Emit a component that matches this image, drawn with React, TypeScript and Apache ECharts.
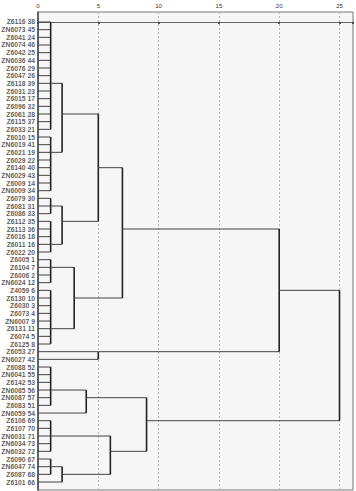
import React, { useEffect, useRef } from "react";
import * as echarts from "echarts";

// Leaf labels, top to bottom
const leafNames = [
  "Z6116 38", "ZN6073 45", "Z6041 24", "ZN6074 46", "Z6042 25", "ZN6036 44", "Z6076 29", "Z6047 26",
  "Z6118 39", "Z6031 23", "Z6015 17", "Z6096 32", "Z6061 28", "Z6115 37", "Z6033 21", "Z6010 15",
  "ZN6019 41", "Z6021 19", "Z6029 22", "Z6140 40", "ZN6029 43", "Z6009 14", "ZN6009 34", "Z6079 30",
  "Z6081 31", "Z6086 33", "Z6112 35", "Z6113 36", "Z6016 18", "Z6011 16", "Z6022 20", "Z6005 1",
  "Z6104 7", "Z6006 2", "ZN6024 12", "Z4059 6", "Z6130 10", "Z6030 3", "Z6073 4", "ZN6007 9",
  "Z6131 11", "Z6074 5", "Z6125 8", "Z6053 27", "ZN6027 42", "Z6088 52", "ZN6041 55", "Z6142 53",
  "ZN6085 56", "ZN6087 57", "Z6083 51", "ZN6059 54", "Z6106 69", "Z6107 70", "ZN6031 71", "ZN6034 73",
  "ZN6032 72", "Z6090 67", "ZN6047 74", "Z6087 68", "Z6101 66",
];

// Rescaled distance tick labels
const axisTicks = [0, 5, 10, 15, 20, 25];

// Merge nodes: id, children (numbers = leaf index, strings = node id), merge distance, leaf row of link
const range = (a: number, b: number) => { const r: number[] = []; for (let i = a; i <= b; i++) r.push(i); return r; };
const nodeIds = ["n1", "n2", "n3", "n4a", "n4b", "n5", "n6", "n8a", "n8b", "n9", "n10", "n11", "n12", "n13a", "n14", "n15a", "n15b1", "n15b", "n15", "n16", "root"];
const nodeKids: (number | string)[][] = [
  range(0, 14), range(15, 22), ["n1", "n2"], range(23, 25), range(26, 30), ["n4a", "n4b"], ["n3", "n5"],
  range(31, 34), range(35, 42), ["n8a", "n8b"], ["n6", "n9"], [43, 44], ["n10", "n11"],
  range(45, 50), ["n13a", 51], range(52, 56), range(57, 59), ["n15b1", 60], ["n15a", "n15b"], ["n14", "n15"], ["n12", "n16"],
];
const nodeHeights = [1.05, 1.05, 2, 1.05, 1.05, 2, 5, 1.05, 1.05, 3, 7, 5, 20, 1.05, 4, 1.05, 1.05, 2, 6, 9, 25];
const nodeRows = [8, 17, 12, 24, 29, 26, 19, 32, 40, 36, 27, 43, 35, 48, 49, 54, 58, 59, 56, 52, 43];

function buildSegments() {
  const info: Record<string, { h: number; row: number }> = {};
  nodeIds.forEach((id, i) => { info[id] = { h: nodeHeights[i], row: nodeRows[i] }; });
  const segs: number[][] = []; // x1, y1, x2, y2, kind (0 horizontal, 1 vertical)
  nodeIds.forEach((id, i) => {
    const h = nodeHeights[i];
    const rows: number[] = [];
    nodeKids[i].forEach((k) => {
      const c = typeof k === "number" ? { h: 0, row: k } : info[k];
      rows.push(c.row);
      segs.push([c.h, c.row, h, c.row, 0]);
    });
    segs.push([h, Math.min(...rows), h, Math.max(...rows), 1]);
  });
  return segs;
}

export default function App() {
  const ref = useRef<HTMLDivElement>(null);
  useEffect(() => {
    if (!ref.current) return;
    const chart = echarts.init(ref.current, null, { renderer: "svg" });
    const segs = buildSegments();
    chart.setOption({
      animation: false,
      backgroundColor: "#ffffff",
      grid: {
        left: 38, right: 3, top: 12, bottom: 1,
        show: true, backgroundColor: "#f6f6f6", borderColor: "#777", borderWidth: 1,
      },
      xAxis: {
        type: "value", position: "top", min: 0, max: 26.12, interval: 5,
        axisLine: { show: true, lineStyle: { color: "#666", width: 1.2 } },
        axisTick: { show: true, inside: true, length: 2, lineStyle: { color: "#333", width: 1.5 } },
        axisLabel: {
          fontSize: 6, color: "#333", margin: 3, fontFamily: "Liberation Sans",
          formatter: (v: number) => (axisTicks.indexOf(v) >= 0 ? String(v) : ""),
        },
        splitLine: { show: true, lineStyle: { type: [2, 2], color: "#b8b8b8", width: 1 } },
      },
      yAxis: {
        type: "value", inverse: true, min: -1.304, max: 61.04,
        axisLine: { show: true, lineStyle: { color: "#444", width: 1.5 } },
        axisTick: { show: false }, axisLabel: { show: false }, splitLine: { show: false },
      },
      series: [
        {
          type: "custom",
          data: segs,
          renderItem: (params: any, api: any) => {
            const p1 = api.coord([api.value(0), api.value(1)]);
            const p2 = api.coord([api.value(2), api.value(3)]);
            const vert = api.value(4) === 1;
            return {
              type: "line",
              shape: { x1: p1[0], y1: p1[1], x2: p2[0], y2: p2[1] },
              style: { stroke: vert ? "#222" : "#444", lineWidth: vert ? 1.6 : 1 },
            };
          },
          z: 5,
        },
        {
          type: "scatter",
          symbolSize: 0,
          data: leafNames.map((_, i) => [0, i]),
          label: {
            show: true, position: "left", distance: 3,
            formatter: (p: any) => leafNames[p.dataIndex],
            fontSize: 6.8, fontWeight: "bold", color: "#333", fontFamily: "Liberation Sans",
          },
          silent: true,
        },
      ],
    });
    return () => chart.dispose();
  }, []);
  return <div ref={ref} style={{ position: "fixed", left: 0, top: 0, width: 356, height: 491 }} />;
}
